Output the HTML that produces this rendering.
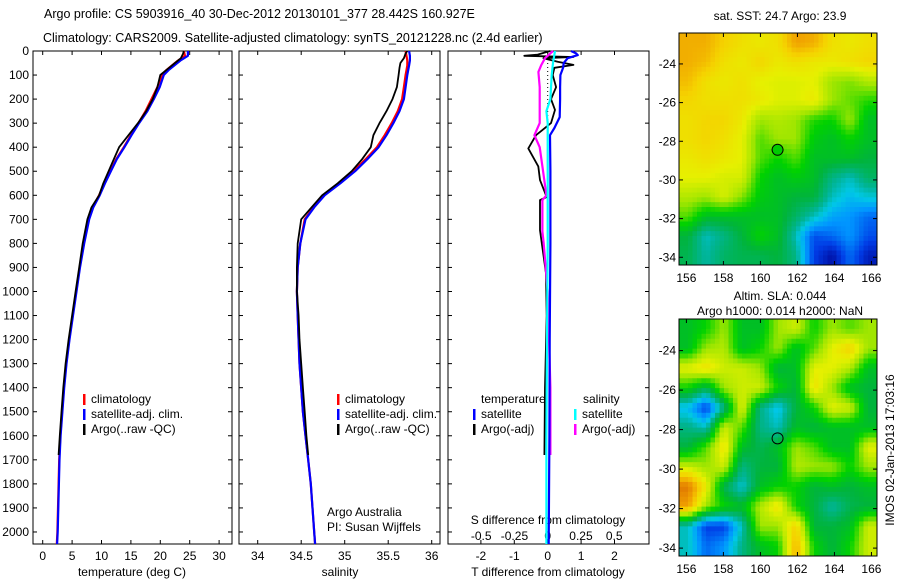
<!DOCTYPE html>
<html><head><meta charset="utf-8"><style>
html,body{margin:0;padding:0;background:#fff}
svg{display:block;font-family:"Liberation Sans",Arial,sans-serif}
text{font-size:12px;fill:#000}
</style></head><body>
<svg id="fig" width="900" height="580" viewBox="0 0 900 580">
<text x="44" y="18" style="font-size:12.5px">Argo profile: CS 5903916_40 30-Dec-2012 20130101_377 28.442S 160.927E</text>
<text x="43" y="42" style="font-size:12.5px">Climatology: CARS2009. Satellite-adjusted climatology: synTS_20121228.nc (2.4d earlier)</text>
<text x="780" y="20" text-anchor="middle">sat. SST: 24.7 Argo: 23.9</text>
<text x="780" y="300" text-anchor="middle">Altim. SLA: 0.044</text>
<text x="780" y="315" text-anchor="middle">Argo h1000: 0.014 h2000: NaN</text>
<text transform="translate(894,450) rotate(-90)" text-anchor="middle">IMOS 02-Jan-2013 17:03:16</text>
</svg>
<script>
// ---------- data ----------
const depthTicks=[0,100,200,300,400,500,600,700,800,900,1000,1100,1200,1300,1400,1500,1600,1700,1800,1900,2000];
const tTicks=[0,5,10,15,20,25,30];
const sTicks=[34,34.5,35,35.5,36];
const dTTicks=[-2,-1,0,1,2];
const dSTicks=[-0.5,-0.25,0,0.25,0.5];
const dSLabels=["-0.5","-0.25","0","0.25","0.5"];

const climDepth=[0,20,40,60,80,100,150,200,250,300,350,400,450,500,550,600,650,700,800,900,1000,1100,1200,1300,1400,1500,1600,1700,1800,1900,2000,2050];
const climTemp=[24,24.2,23,22,21,20.3,19.5,18.5,17.5,16.3,15,13.8,12.5,11.5,10.5,9.6,8.5,7.8,7,6.3,5.7,5.1,4.5,4,3.6,3.3,3,2.8,2.7,2.6,2.5,2.4];
const satTemp=[24.7,24.7,23.4,22.4,21.4,20.6,19.9,18.9,17.8,16.4,15.1,13.9,12.6,11.6,10.6,9.7,8.6,7.9,7.05,6.35,5.75,5.15,4.55,4.05,3.65,3.35,3.05,2.85,2.75,2.65,2.55,2.45];
const argoDepth=[0,10,30,50,70,100,150,200,250,300,350,400,450,500,550,600,650,700,800,900,1000,1100,1200,1300,1400,1500,1600,1680];
const argoTemp=[24,23.9,23.5,22.5,21.5,20,19.5,18.7,17.6,16.2,14.6,13,12.1,11.2,10.3,9.6,8.3,7.6,6.8,6.2,5.6,5.0,4.4,3.9,3.5,3.2,2.9,2.7];

const climSal=[35.7,35.71,35.72,35.72,35.71,35.7,35.68,35.66,35.61,35.54,35.46,35.37,35.24,35.1,34.93,34.76,34.64,34.54,34.49,34.46,34.45,34.46,34.47,34.48,34.5,34.52,34.55,34.58,34.61,34.63,34.65,34.66];
const satSal=[35.74,35.75,35.75,35.74,35.73,35.72,35.7,35.68,35.63,35.56,35.48,35.39,35.26,35.12,34.95,34.77,34.65,34.55,34.49,34.46,34.45,34.46,34.47,34.48,34.5,34.52,34.55,34.58,34.61,34.63,34.65,34.66];
const argoSal=[35.72,35.7,35.68,35.64,35.63,35.62,35.6,35.55,35.48,35.4,35.33,35.3,35.2,35.08,34.92,34.74,34.62,34.5,34.46,34.45,34.45,34.47,34.48,34.5,34.52,34.54,34.56,34.58];

const diffTSatDepth=[0,10,17,30,50,70,100,150,200,275,320,350,500,800,1200,1600,2050];
const diffTSat=[0.7,0.85,0.9,0.6,0.48,0.46,0.38,0.37,0.37,0.36,0.2,0.07,0.08,0.08,0.06,0.05,0.03];
const diffTArgoDepth=[0,15,20,25,30,45,58,70,100,150,200,245,300,350,405,480,537,607,620,745,925,1100,1400,1680];
const diffTArgo=[0.07,-0.3,-0.7,0.77,-0.13,0.3,0.77,0.2,0.15,0.25,0.1,0.22,0.1,-0.35,-0.58,-0.28,-0.23,-0.03,-0.23,-0.23,-0.05,-0.03,-0.08,-0.1];
const diffSSatDepth=[0,50,100,200,250,300,500,800,1200,1600,2050];
const diffSSat=[0.055,0.04,0.03,0.02,-0.01,0.0,0.0,0.0,-0.005,-0.01,-0.01];
const diffSArgoDepth=[0,30,60,87,150,200,300,350,400,480,600,620,750,800,1000,1400,1680];
const diffSArgo=[0.04,-0.02,-0.05,-0.07,-0.06,-0.06,-0.06,-0.1,-0.06,-0.04,-0.01,-0.04,-0.04,-0.03,0.0,0.02,0.02];

const lonTicks=[156,158,160,162,164,166];
const latTicks=[-24,-26,-28,-30,-32,-34];
const sstGrid=[
[0.8,0.8,0.75,0.72,0.7,0.72,0.82,0.8,0.72,0.7,0.72],
[0.8,0.78,0.72,0.7,0.74,0.7,0.72,0.7,0.7,0.72,0.74],
[0.78,0.72,0.7,0.72,0.68,0.67,0.67,0.68,0.6,0.58,0.62],
[0.74,0.72,0.72,0.72,0.7,0.67,0.67,0.7,0.6,0.56,0.52],
[0.72,0.74,0.74,0.7,0.6,0.62,0.6,0.52,0.5,0.6,0.45],
[0.72,0.74,0.72,0.68,0.55,0.6,0.6,0.48,0.45,0.5,0.45],
[0.7,0.72,0.7,0.68,0.55,0.5,0.55,0.45,0.45,0.45,0.42],
[0.68,0.68,0.66,0.66,0.5,0.45,0.48,0.45,0.35,0.3,0.38],
[0.62,0.6,0.66,0.58,0.48,0.45,0.42,0.42,0.3,0.25,0.28],
[0.55,0.45,0.45,0.45,0.45,0.45,0.38,0.3,0.22,0.2,0.15],
[0.42,0.3,0.35,0.42,0.5,0.45,0.3,0.12,0.15,0.2,0.12],
[0.4,0.32,0.38,0.4,0.4,0.42,0.35,0.1,0.03,0.15,0.05]];
const slaGrid=[
[0.45,0.5,0.6,0.45,0.45,0.6,0.65,0.5,0.6,0.55,0.6],
[0.45,0.6,0.62,0.45,0.5,0.6,0.45,0.55,0.68,0.75,0.6],
[0.68,0.72,0.65,0.65,0.6,0.42,0.45,0.68,0.68,0.62,0.45],
[0.5,0.4,0.6,0.65,0.65,0.5,0.42,0.72,0.6,0.45,0.42],
[0.25,0.1,0.35,0.68,0.35,0.25,0.42,0.5,0.68,0.65,0.42],
[0.35,0.3,0.65,0.55,0.35,0.3,0.45,0.42,0.45,0.45,0.45],
[0.42,0.55,0.72,0.45,0.4,0.45,0.6,0.55,0.45,0.45,0.68],
[0.65,0.6,0.65,0.35,0.42,0.42,0.62,0.6,0.6,0.5,0.6],
[0.88,0.7,0.4,0.28,0.45,0.5,0.5,0.42,0.45,0.42,0.45],
[0.82,0.6,0.5,0.45,0.62,0.72,0.5,0.42,0.32,0.4,0.42],
[0.3,0.1,0.1,0.3,0.6,0.6,0.75,0.42,0.42,0.45,0.65],
[0.3,0.15,0.2,0.35,0.45,0.5,0.8,0.5,0.42,0.5,0.65]];
const floatLon=160.927, floatLat=-28.442;

// ---------- drawing ----------
const NS="http://www.w3.org/2000/svg";
const svg=document.getElementById('fig');
function el(tag,attrs,parent){const e=document.createElementNS(NS,tag);for(const k in attrs)e.setAttribute(k,attrs[k]);(parent||svg).appendChild(e);return e;}
function txt(x,y,s,anchor,parent,size){const t=el('text',{x:x,y:y,'text-anchor':anchor||'start'},parent);if(size)t.style.fontSize=size;t.textContent=s;return t;}

const TOP=51, BOT=544, DMAX=2050;
const yD=d=>TOP+(BOT-TOP)*d/DMAX;
const P1={l:33,r:232}, P2={l:239,r:440}, P3={l:448,r:649};
const xT=t=>42.7+5.88*t;
const xS=s=>257.7+87*(s-34);
const xDT=v=>547.7+33.4*v;
const xDS=v=>547.7+133*v;

function frame(P,name){
  const g=el('g',{});
  
  
  el('rect',{x:P.l,y:TOP,width:P.r-P.l,height:BOT-TOP,fill:'#fff',stroke:'#000','stroke-width':1},g);
  depthTicks.forEach(d=>{const y=yD(d);el('line',{x1:P.l,x2:P.l+4,y1:y,y2:y,stroke:'#000'},g);el('line',{x1:P.r-4,x2:P.r,y1:y,y2:y,stroke:'#000'},g);});
  return g;
}
function xticks(g,P,vals,fx,labels,ly){
  vals.forEach((v,i)=>{const x=fx(v);el('line',{x1:x,x2:x,y1:BOT,y2:BOT-4,stroke:'#000'},g);el('line',{x1:x,x2:x,y1:TOP,y2:TOP+4,stroke:'#000'},g);txt(x,ly,labels?labels[i]:String(v),'middle',g);});
}
function line(g,depths,vals,fx,color,name,w){
  const pts=depths.map((d,i)=>fx(vals[i]).toFixed(1)+','+yD(d).toFixed(1)).join(' ');
  const p=el('polyline',{points:pts,fill:'none',stroke:color,'stroke-width':w||2.2,'stroke-linejoin':'round'},g);
  
  
}
function legend(g,x,y,items){
  items.forEach((it,i)=>{const yy=y+i*15;el('rect',{x:x,y:yy-9,width:2.5,height:11,fill:it[1]},g);txt(x+8,yy,it[0],'start',g);});
}

// panel 1
const g1=frame(P1,'temperature-panel');
depthTicks.forEach(d=>txt(P1.l-4,yD(d)+4,String(d),'end',g1));
xticks(g1,P1,tTicks,xT,null,560);
txt(132,576,'temperature (deg C)','middle',g1);
line(g1,climDepth,climTemp,xT,'#f00','temp-climatology-line');
line(g1,climDepth,satTemp,xT,'#00f','temp-satellite-line');
line(g1,argoDepth,argoTemp,xT,'#000','temp-argo-line',1.8);
legend(g1,83,403,[['climatology','#f00'],['satellite-adj. clim.','#00f'],['Argo(..raw -QC)','#000']]);

// panel 2
const g2=frame(P2,'salinity-panel');
xticks(g2,P2,sTicks,xS,null,560);
txt(340,576,'salinity','middle',g2);
line(g2,climDepth,climSal,xS,'#f00','sal-climatology-line');
line(g2,climDepth,satSal,xS,'#00f','sal-satellite-line');
line(g2,argoDepth,argoSal,xS,'#000','sal-argo-line',1.8);
legend(g2,337,403,[['climatology','#f00'],['satellite-adj. clim.','#00f'],['Argo(..raw -QC)','#000']]);
txt(327,516,'Argo Australia','start',g2);
txt(327,531,'PI: Susan Wijffels','start',g2);

// panel 3
const g3=frame(P3,'difference-panel');
xticks(g3,P3,dTTicks,xDT,null,560);
dSTicks.forEach((v,i)=>{const x=xDS(v);txt(x,540,dSLabels[i],'middle',g3);});
txt(548,524,'S difference from climatology','middle',g3);
txt(548,576,'T difference from climatology','middle',g3);
el('line',{x1:xDT(0),x2:xDT(0),y1:yD(0),y2:yD(520),stroke:'#000','stroke-dasharray':'1,3'},g3);
line(g3,diffTArgoDepth,diffTArgo,xDT,'#000','diff-t-argo-line',1.8);
line(g3,diffSArgoDepth,diffSArgo,xDS,'#f0f','diff-s-argo-line');
line(g3,diffTSatDepth,diffTSat,xDT,'#00f','diff-t-satellite-line');
line(g3,diffSSatDepth,diffSSat,xDS,'#0ff','diff-s-satellite-line');
txt(481,403,'temperature','start',g3);
legend(g3,473,418,[['satellite','#00f'],['Argo(-adj)','#000']]);
txt(583,403,'salinity','start',g3);
legend(g3,574,418,[['satellite','#0ff'],['Argo(-adj)','#f0f']]);

// maps
const stops=[[0,[0,0,140]],[0.1,[0,60,230]],[0.2,[0,150,255]],[0.27,[0,200,230]],[0.33,[0,180,150]],[0.42,[0,180,60]],[0.5,[0,210,0]],[0.6,[160,230,0]],[0.68,[230,240,0]],[0.75,[245,210,0]],[0.82,[240,160,0]],[0.9,[220,110,0]],[1,[190,70,0]]];
function cmap(v){v=Math.max(0,Math.min(1,v));for(let i=1;i<stops.length;i++){if(v<=stops[i][0]){const a=stops[i-1],b=stops[i],f=(v-a[0])/(b[0]-a[0]);return 'rgb('+a[1].map((c,k)=>Math.round(c+(b[1][k]-c)*f)).join(',')+')';}}return 'rgb(190,70,0)';}
function sample(grid,r,c){
  const nr=grid.length,nc=grid[0].length;
  r=Math.max(0,Math.min(nr-1,r));c=Math.max(0,Math.min(nc-1,c));
  const r0=Math.floor(r),c0=Math.floor(c),r1=Math.min(nr-1,r0+1),c1=Math.min(nc-1,c0+1),fr=r-r0,fc=c-c0;
  return grid[r0][c0]*(1-fr)*(1-fc)+grid[r0][c1]*(1-fr)*fc+grid[r1][c0]*fr*(1-fc)+grid[r1][c1]*fr*fc;
}
function map(grid,M,name,filled){
  const g=el('g',{});
  
  
  const LON0=155.6,LON1=166.3,LAT0=-22.4,LAT1=-34.4;
  const xL=lo=>M.l+(lo-LON0)/(LON1-LON0)*(M.r-M.l);
  const yL=la=>M.t+(la-LAT0)/(LAT1-LAT0)*(M.b-M.t);
  const nr=grid.length,nc=grid[0].length,SUB=4;
  const cw=(M.r-M.l)/(nc*SUB),ch=(M.b-M.t)/(nr*SUB);
  for(let r=0;r<nr*SUB;r++)for(let c=0;c<nc*SUB;c++){
    const v=sample(grid,(r+0.5)/SUB-0.5,(c+0.5)/SUB-0.5);
    const cell=el('rect',{x:(M.l+c*cw).toFixed(2),y:(M.t+r*ch).toFixed(2),width:(cw+0.5).toFixed(2),height:(ch+0.5).toFixed(2),fill:cmap(v)},g);
    
    
  }
  el('rect',{x:M.l,y:M.t,width:M.r-M.l,height:M.b-M.t,fill:'none',stroke:'#000'},g);
  lonTicks.forEach(lo=>{const x=xL(lo);el('line',{x1:x,x2:x,y1:M.b,y2:M.b-4,stroke:'#000'},g);el('line',{x1:x,x2:x,y1:M.t,y2:M.t+4,stroke:'#000'},g);txt(x,M.b+17,String(lo),'middle',g);});
  latTicks.forEach(la=>{const y=yL(la);el('line',{x1:M.l,x2:M.l+4,y1:y,y2:y,stroke:'#000'},g);el('line',{x1:M.r-4,x2:M.r,y1:y,y2:y,stroke:'#000'},g);txt(M.l-3,y+4,String(la),'end',g);});
  const mk=el('circle',{cx:xL(floatLon),cy:yL(floatLat),r:5.5,fill:filled?'#0c0':'none',stroke:'#000'},g);
  
  
}
map(sstGrid,{l:679,r:877,t:33,b:265},'sst-map',true);
map(slaGrid,{l:679,r:877,t:319,b:556},'sla-map',false);
</script>
</body></html>
